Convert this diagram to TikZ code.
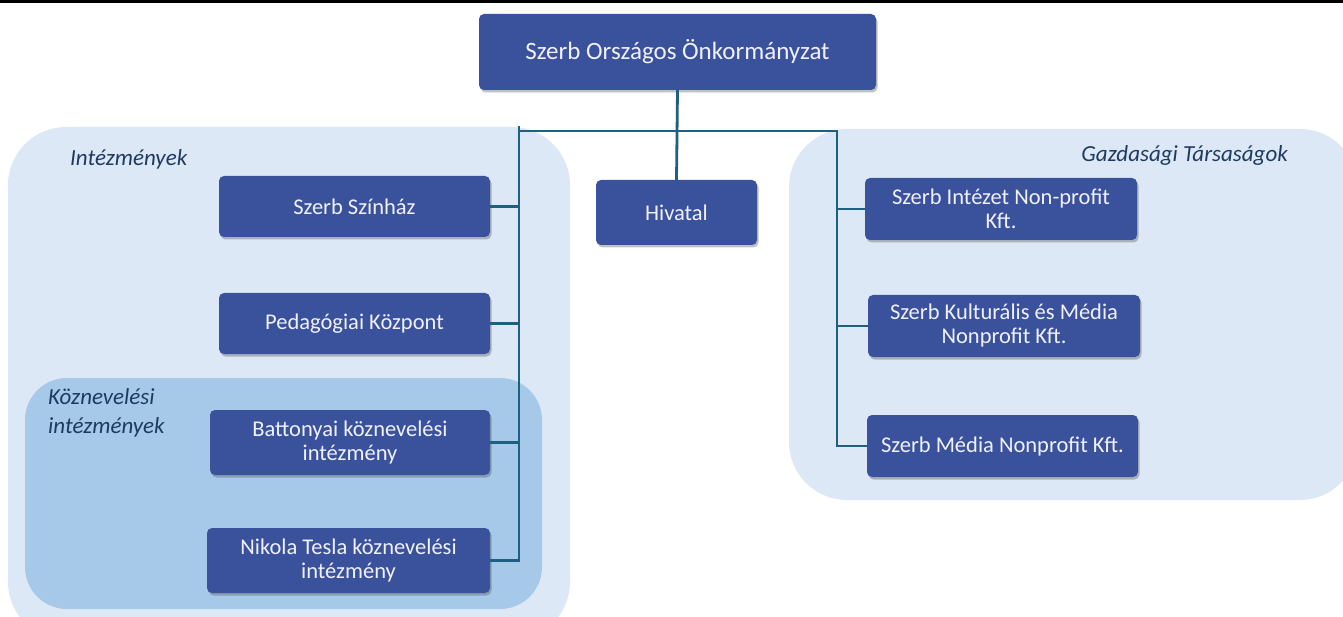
\documentclass[tikz,border=0pt]{standalone}
\usepackage{fontspec}
\setmainfont{Carlito}
\usetikzlibrary{shadows}
\definecolor{boxblue}{HTML}{3A519B}
\definecolor{lightreg}{HTML}{DCE8F5}
\definecolor{midreg}{HTML}{A6C9EA}
\definecolor{conncol}{HTML}{1F5F80}
\definecolor{labcol}{HTML}{1F3A60}
\tikzset{
  unitbox/.style={draw=none, fill=boxblue, rounded corners=5pt, text=white!94!blue, inner sep=0pt,
    align=center, font=\fontsize{22.5}{24}\selectfont,
    drop shadow={shadow xshift=1.5pt, shadow yshift=-2.5pt, opacity=0.35, fill=black!70}},
  conn/.style={draw=conncol, line width=2.8pt},
  grouplab/.style={font=\fontsize{23}{29}\selectfont\itshape, text=labcol, inner sep=0pt},
  region/.style={fill=#1, draw=none},
}
\begin{document}
\begin{tikzpicture}[x=1pt, y=-1pt]
\useasboundingbox (0,0) rectangle (1343,617);
% top black line
\fill[black] (0,0) rectangle (1343,3.5);
% regions
\fill[region=lightreg, rounded corners=58pt] (8,127) rectangle (570,640);
\fill[region=midreg, rounded corners=42pt] (25,378) rectangle (542,609);
\fill[region=lightreg, rounded corners=58pt] (789,129) rectangle (1358,500);
% group labels
\node[grouplab, anchor=west] (lint) at (70,159) {Intézmények};
\node[grouplab, anchor=north west, align=left] (lkoz) at (48,388) {Köznevelési\\intézmények};
\node[grouplab, anchor=east] (lgaz) at (1288,155) {Gazdasági Társaságok};
% boxes
\node[unitbox, minimum width=397pt, minimum height=76pt, font=\fontsize{25}{28}\selectfont] (top) at (677.5,52) {Szerb Országos Önkormányzat};
\node[unitbox, minimum width=161pt, minimum height=65pt] (hiv) at (676.5,212.5) {Hivatal};
\node[unitbox, minimum width=271pt, minimum height=61pt] (ssz) at (354.5,206.5) {Szerb Színház};
\node[unitbox, minimum width=271pt, minimum height=61pt] (ped) at (354.5,323.5) {Pedagógiai Központ};
\node[unitbox, minimum width=280pt, minimum height=65pt] (bat) at (350,442.5) {Battonyai köznevelési\\intézmény};
\node[unitbox, minimum width=283pt, minimum height=65pt] (nt) at (348.5,560.5) {Nikola Tesla köznevelési\\intézmény};
\node[unitbox, minimum width=272pt, minimum height=62pt] (sin) at (1001,209) {Szerb Intézet Non-profit\\Kft.};
\node[unitbox, minimum width=272pt, minimum height=62pt] (kul) at (1004,326) {Szerb Kulturális és Média\\Nonprofit Kft.};
\node[unitbox, minimum width=271pt, minimum height=62pt] (med) at (1002.5,446) {Szerb Média Nonprofit Kft.};
% connector coordinates
\coordinate (lt) at (519,126);
\coordinate (hl) at (519,131);
\coordinate (hr) at (837,131);
% connectors
\draw[conn] (top.south) -- (hiv.north);
\draw[conn] (hl) -- (hr) -- (hr |- med.west) -- (med.west);
\draw[conn] (lt) -- (lt |- nt.east) -- (nt.east);
\draw[conn] (ssz.east) -- (ssz.east -| lt);
\draw[conn] (ped.east) -- (ped.east -| lt);
\draw[conn] (bat.east) -- (bat.east -| lt);
\draw[conn] (sin.west) -- (sin.west -| hr);
\draw[conn] (kul.west) -- (kul.west -| hr);
\end{tikzpicture}
\end{document}
